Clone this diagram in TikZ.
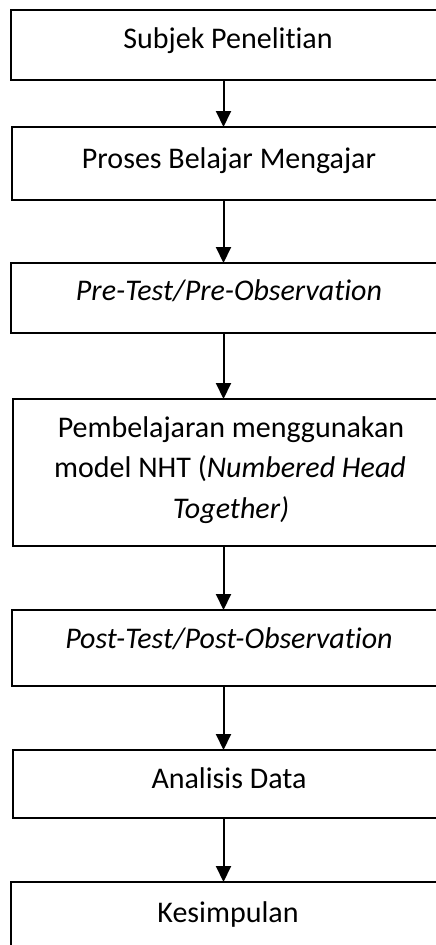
\documentclass[tikz,border=0pt]{standalone}
\usepackage{fontspec}
\setmainfont{Carlito}[RawFeature={-liga;-clig;-calt;-dlig;-rlig}]
\usetikzlibrary{arrows.meta}
\newcommand\tiX{t\kern0pt i}
\tikzset{
  box/.style={rectangle, inner sep=0pt, outer sep=0pt, anchor=north west, minimum width=440pt},
  boxline/.style={draw=black, line width=1.5pt, line join=miter},
  lbl/.style={inner sep=0pt, anchor=base, font=\fontsize{30}{40.5}\selectfont},
  arr/.style={line width=2pt, -{Triangle[width=15pt,length=16pt]}}
}
\begin{document}
\begin{tikzpicture}[x=1pt,y=-1pt]
\useasboundingbox (0,0) rectangle (436,945);
\clip (0,0) rectangle (436,945);
\fill[white] (0,0) rectangle (436,945);
\coordinate (ax) at (223.5,0);
% boxes
\node[box, minimum height=70pt] (b1) at (11,10) {};
\node[box, minimum height=73pt] (b2) at (12,127) {};
\node[box, minimum height=70pt] (b3) at (11,263) {};
\node[box, minimum height=147pt] (b4) at (13,399) {};
\node[box, minimum height=76pt] (b5) at (12,610) {};
\node[box, minimum height=68pt] (b6) at (13,750) {};
\node[box, minimum height=90pt] (b7) at (11,882) {};
\foreach \b in {b1,b2,b3,b4,b5,b6,b7}
  \draw[boxline] (\b.north east) -- (\b.north west) -- (\b.south west) -- (\b.south east);
% labels
\node[lbl] (t1) at (228,48) {Subjek Peneli\tiX an};
\node[lbl] (t2) at (229,168) {Proses Belajar Mengajar};
\node[lbl] (t3) at (229,300) {\textit{Pre-Test/Pre-Observa\tiX on}};
\node[lbl] (t4a) at (231,437) {Pembelajaran menggunakan};
\node[lbl] (t4b) at (230,477) {model NHT (\textit{Numbered Head}};
\node[lbl] (t4c) at (231,518) {\textit{Together)}};
\node[lbl] (t5) at (229,648) {\textit{Post-Test/Post-Observa\tiX on}};
\node[lbl] (t6) at (229,788) {Analisis Data};
\node[lbl] (t7) at (228,922) {Kesimpulan};
% arrows
\draw[arr] (b1.south -| ax) -- (b2.north -| ax);
\draw[arr] (b2.south -| ax) -- (b3.north -| ax);
\draw[arr] (b3.south -| ax) -- (b4.north -| ax);
\draw[arr] (b4.south -| ax) -- (b5.north -| ax);
\draw[arr] (b5.south -| ax) -- (b6.north -| ax);
\draw[arr] (b6.south -| ax) -- (b7.north -| ax);
\end{tikzpicture}
\end{document}
